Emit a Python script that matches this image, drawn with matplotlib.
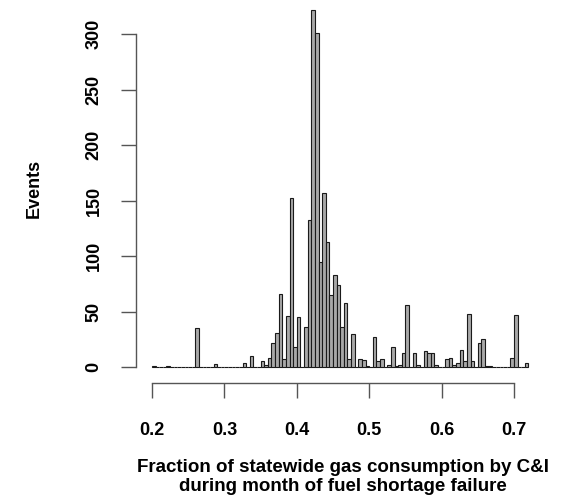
import numpy as np
import matplotlib
matplotlib.use("Agg")
import matplotlib.pyplot as plt

# histogram bins: width 0.005 starting at 0.2
bin_start = 0.2
bin_width = 0.005
counts = [1, 0, 0, 0, 1, 0, 0, 0, 0, 0,
          0, 0, 35, 0, 0, 0, 0, 3, 0, 0,
          0, 0, 0, 0, 0, 4, 0, 10, 0, 0,
          5, 2, 8, 22, 31, 66, 7, 46, 152, 18,
          45, 0, 36, 132, 322, 301, 95, 157, 113, 65,
          83, 74, 36, 58, 7, 30, 0, 7, 6, 1,
          0, 27, 5, 7, 0, 2, 18, 1, 2, 13,
          56, 0, 13, 2, 0, 14, 13, 13, 2, 0,
          0, 7, 8, 2, 4, 15, 5, 48, 5, 0,
          22, 25, 1, 1, 0, 0, 0, 0, 0, 8,
          47, 0, 0, 4]
xticks = [0.2, 0.3, 0.4, 0.5, 0.6, 0.7]
yticks = [0, 50, 100, 150, 200, 250, 300]
xlab = "Fraction of statewide gas consumption by C&I\nduring month of fuel shortage failure"
ylab = "Events"

W, H = 561, 497
plt.rcParams['font.family'] = ['Liberation Sans', 'DejaVu Sans']
plt.rcParams['font.weight'] = 'bold'

fig = plt.figure(figsize=(W / 100, H / 100), dpi=100)
# axes box in pixels: left 140, right 535, top 5, bottom 372
ax = fig.add_axes([140 / W, (H - 372) / H, (535 - 140) / W, (372 - 5) / H])

lefts = bin_start + bin_width * np.arange(len(counts))
ax.bar(lefts, counts, width=bin_width, align='edge',
       color='#a8a8a8', edgecolor='#1a1a1a', linewidth=0.8)

ax.set_xlim(0.2 - 12 / 724, 0.7 + 21 / 724)
ax.set_ylim(-5 / 1.11, 300 + 29 / 1.11)

for s in ['top', 'right']:
    ax.spines[s].set_visible(False)
ax.spines['left'].set_position(('outward', 3))
ax.spines['bottom'].set_position(('outward', 8))
ax.spines['left'].set_bounds(0, 300)
ax.spines['bottom'].set_bounds(0.2, 0.7)
for s in ['left', 'bottom']:
    ax.spines[s].set_color('#555555')
    ax.spines[s].set_linewidth(1.0)

ax.set_xticks(xticks)
ax.set_xticklabels([str(t) for t in xticks], fontsize=13, fontweight='bold')
ax.set_yticks(yticks)
ax.set_yticklabels([str(t) for t in yticks], fontsize=13, fontweight='bold',
                   rotation=90, va='center')
ax.tick_params(axis='x', length=11, width=1.0, color='#555555', pad=17)
ax.tick_params(axis='y', length=11, width=1.0, color='#555555', pad=13)

fig.text(343 / W, 1 - 477 / H, xlab, ha='center', va='center',
         fontsize=13.5, fontweight='bold', linespacing=1.1)
fig.text(34 / W, 1 - 188 / H, ylab, ha='center', va='center', rotation=90,
         fontsize=13, fontweight='bold')

fig.savefig("out.png", dpi=100)
